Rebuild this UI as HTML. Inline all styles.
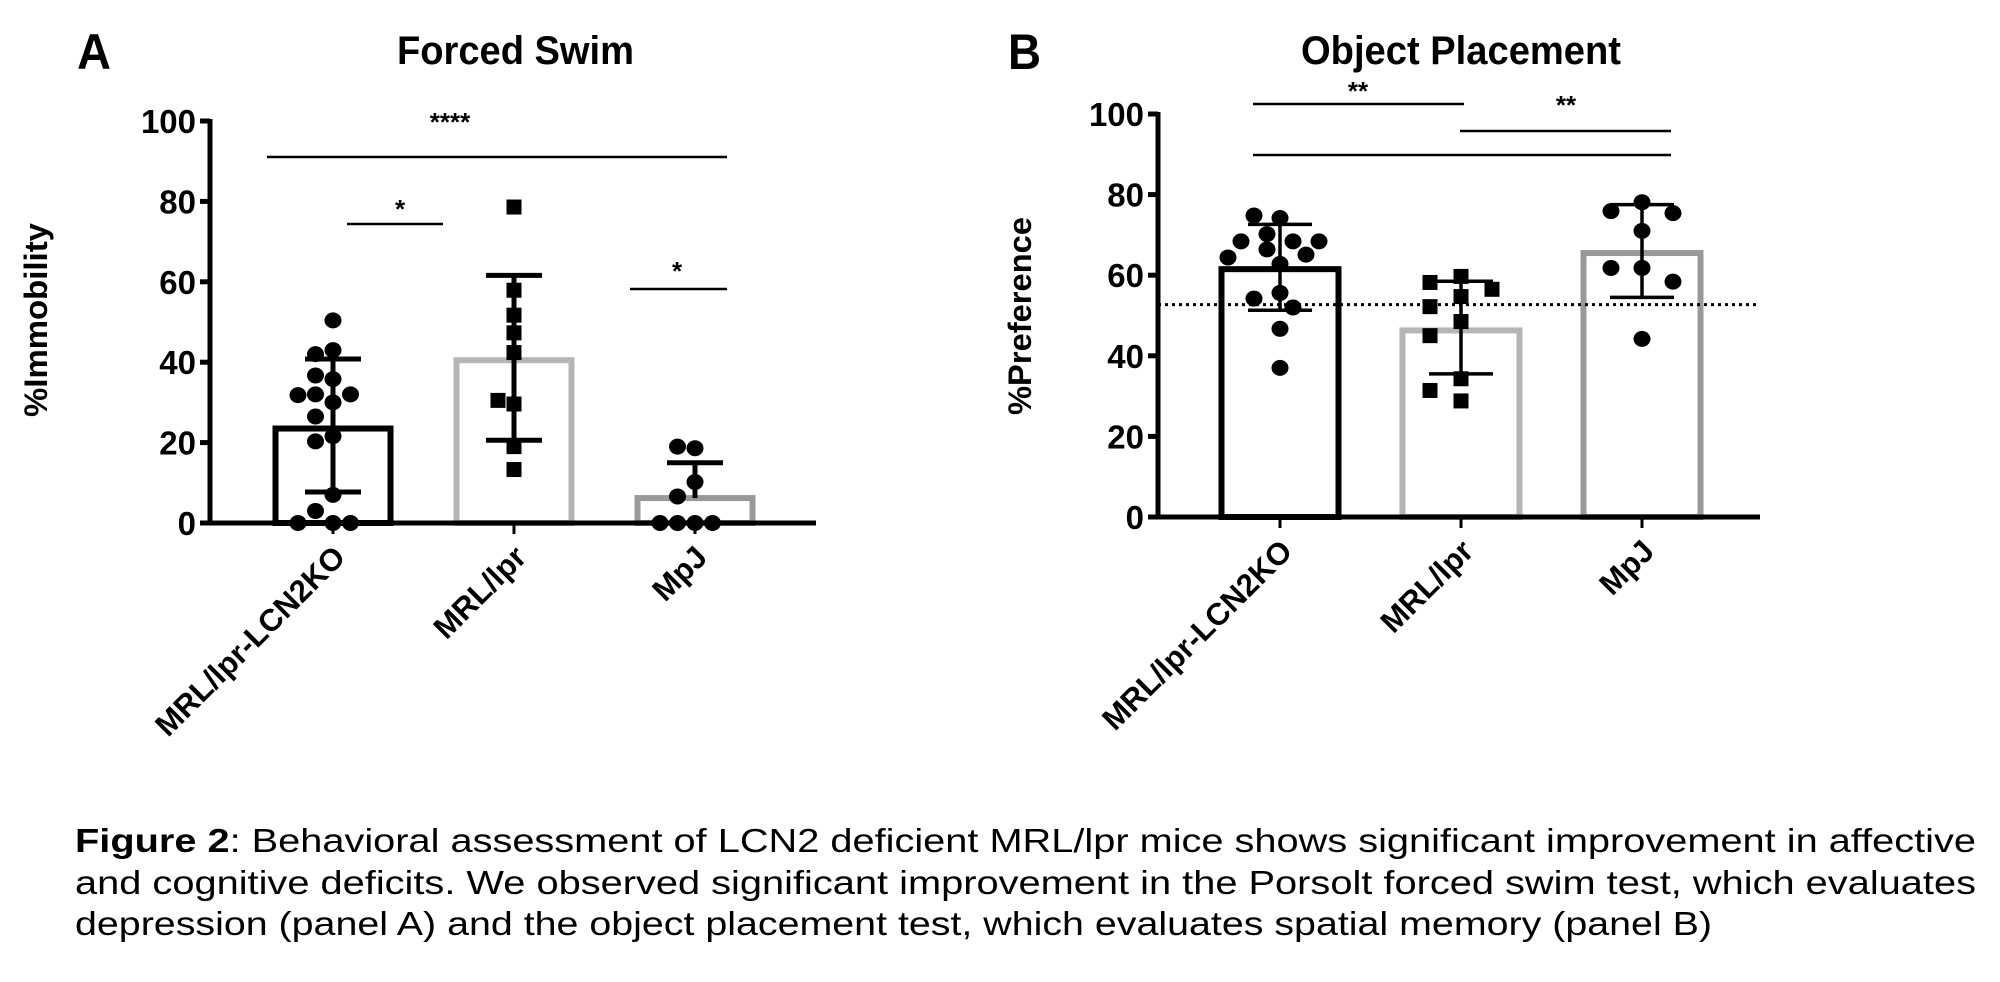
<!DOCTYPE html>
<html><head><meta charset="utf-8"><style>
html,body{margin:0;padding:0;background:#fff;}
svg{display:block;font-family:"Liberation Sans",Arial,sans-serif;}
</style></head><body>
<svg id="fig" width="2000" height="982" viewBox="0 0 2000 982">
<text x="77" y="69" font-size="50" font-weight="bold" textLength="34" lengthAdjust="spacingAndGlyphs">A</text>
<text x="1008" y="69" font-size="50" font-weight="bold" textLength="33" lengthAdjust="spacingAndGlyphs">B</text>
<text x="397" y="64" font-size="40" font-weight="bold" textLength="237" lengthAdjust="spacingAndGlyphs">Forced Swim</text>
<text x="1301" y="64" font-size="40" font-weight="bold" textLength="320" lengthAdjust="spacingAndGlyphs">Object Placement</text>
<text transform="translate(47,320) rotate(-90)" text-anchor="middle" font-size="32" font-weight="bold" textLength="194" lengthAdjust="spacingAndGlyphs">%Immobility</text>
<text transform="translate(1031,316) rotate(-90)" text-anchor="middle" font-size="32" font-weight="bold" textLength="198" lengthAdjust="spacingAndGlyphs">%Preference</text>
<g id="pa"></g>
<g id="pb"></g>
<g>
<text x="75" y="852" font-size="33" textLength="1901" lengthAdjust="spacingAndGlyphs"><tspan font-weight="bold">Figure 2</tspan>: Behavioral assessment of LCN2 deficient MRL/lpr mice shows significant improvement in affective</text>
<text x="75" y="894" font-size="33" textLength="1901" lengthAdjust="spacingAndGlyphs">and cognitive deficits. We observed significant improvement in the Porsolt forced swim test, which evaluates</text>
<text x="75" y="935" font-size="33" textLength="1637" lengthAdjust="spacingAndGlyphs">depression (panel A) and the object placement test, which evaluates spatial memory (panel B)</text>
</g>
</svg>
<script>
const categories = ["MRL/lpr-LCN2KO", "MRL/lpr", "MpJ"];
const yTicks = [0, 20, 40, 60, 80, 100];
const aMeans = [23.5, 40.5, 6.2];
const aUpper = [40.8, 61.6, 15];
const aLower = [7.7, 20.6, null];
const aPts1 = [50.4, 43, 42, 35.8, 36.7, 32, 32, 31.8, 30, 26.5, 21.6, 20.3, 7, 3, 0, 0, 0];
const aPts2 = [78.6, 57.9, 51.7, 47.3, 42.4, 29.6, 30.5, 19, 13.3];
const aPts3 = [18.6, 19, 10.2, 6.6, 0, 0, 0, 0];
const bMeans = [61.5, 46.3, 65.5];
const bUpper = [72.6, 58.5, 77.5];
const bLower = [51.3, 35.5, 54.5];
const bPts1 = [74.2, 74.8, 70.2, 68.4, 68.4, 68.4, 66.4, 65.1, 64.4, 62.8, 55.6, 54.2, 52, 46.7, 37];
const bPts2 = [59.7, 58.2, 56.5, 54.7, 52.2, 48.5, 45, 34.3, 31.4, 28.8];
const bPts3 = [78.1, 75.9, 75.4, 71, 61.8, 61.8, 58.4, 44.2];
const bChance = 52.7;

const NS = "http://www.w3.org/2000/svg";
function mk(parent, tag, attrs){const e=document.createElementNS(NS,tag);for(const k in attrs)e.setAttribute(k,attrs[k]);parent.appendChild(e);return e;}

function swarm(vals, step, d, yScale, cap){
  const placed=[];const out=[];
  const cands=[0];
  for(let k=1;k<=cap;k++){cands.push(-k,k);}
  vals.forEach(v=>{
    let best=0,bestD=-1;
    for(const c of cands){
      const o=c*step;
      let md=Infinity;
      placed.forEach(p=>{md=Math.min(md,Math.hypot(p.o-o,(p.v-v)*yScale));});
      if(md>=d){best=o;bestD=Infinity;break;}
      if(md>bestD){bestD=md;best=o;}
    }
    placed.push({o:best,v:v});out.push(best);
  });
  return out;
}

function drawPanel(g, cfg){
  const y = v => cfg.y0 - (v/100)*(cfg.y0-cfg.y100);
  const cx = i => cfg.centers[i];
  const cols = ["#000","#b5b5b5","#999"];
  cfg.means.forEach((m,i)=>{
    const r = mk(g,"rect",{x:cx(i)-cfg.bw/2,y:y(m),width:cfg.bw,height:cfg.y0-y(m),fill:"#fff",stroke:cols[i],"stroke-width":cfg.bs});
    
    
  });
  if(cfg.chance!=null){
    const l=mk(g,"line",{x1:cfg.x0,x2:cfg.xEnd,y1:y(cfg.chance),y2:y(cfg.chance),stroke:"#000","stroke-width":3,"stroke-dasharray":"3,4"});
    
    
  }
  cfg.pts.forEach((arr,i)=>{
    const offs = swarm(arr, cfg.steps[i], 17, (cfg.y0-cfg.y100)/100, cfg.caps[i]);
    arr.forEach((v,j)=>{
      let e;
      if(cfg.shapes[i]==="sq") e=mk(g,"rect",{x:cx(i)+offs[j]-7.5,y:y(v)-7.5,width:15,height:15,fill:"#000"});
      else e=mk(g,"ellipse",{cx:cx(i)+offs[j],cy:y(v),rx:8.5,ry:8,fill:"#000"});
      
      
    });
  });
  cfg.means.forEach((m,i)=>{
    const lo = cfg.lower[i]==null ? m : cfg.lower[i];
    const eg = mk(g,"g",{stroke:"#000","stroke-width":cfg.es});
    
    
    mk(eg,"line",{x1:cx(i),x2:cx(i),y1:y(cfg.upper[i]),y2:y(lo)});
    mk(eg,"line",{x1:cx(i)-cfg.cap,x2:cx(i)+cfg.cap,y1:y(cfg.upper[i]),y2:y(cfg.upper[i])});
    if(cfg.lower[i]!=null) mk(eg,"line",{x1:cx(i)-cfg.cap,x2:cx(i)+cfg.cap,y1:y(lo),y2:y(lo)});
  });
  const ax=mk(g,"line",{x1:cfg.x0,x2:cfg.x0,y1:cfg.y100-2,y2:cfg.y0+2,stroke:"#000","stroke-width":cfg.as});
  
  
  const bx=mk(g,"line",{x1:cfg.x0-2,x2:cfg.xEnd,y1:cfg.y0,y2:cfg.y0,stroke:"#000","stroke-width":cfg.as});
  
  
  yTicks.forEach(t=>{
    const tk=mk(g,"line",{x1:cfg.x0-10,x2:cfg.x0,y1:y(t),y2:y(t),stroke:"#000","stroke-width":cfg.as});
    
    
    const tl=mk(g,"text",{x:cfg.x0-14,y:y(t)+12,"text-anchor":"end","font-size":33,"font-weight":"bold"});
    tl.textContent=t;
    
    
  });
  categories.forEach((c,i)=>{
    const tk=mk(g,"line",{x1:cx(i),x2:cx(i),y1:cfg.y0,y2:cfg.y0+11,stroke:"#000","stroke-width":3});
    
    
    const tl=mk(g,"text",{transform:`translate(${cx(i)+14},${cfg.y0+36}) rotate(-45)`,"text-anchor":"end","font-size":31,"font-weight":"bold"});
    tl.textContent=c;
    
    
  });
  cfg.sig.forEach(s=>{
    const l=mk(g,"line",{x1:s[0],x2:s[1],y1:s[2],y2:s[2],stroke:"#000","stroke-width":2.5});
    
    
    if(s[3]){
      const t=mk(g,"text",{x:s[4],y:s[5],"text-anchor":"middle","font-size":26,"font-weight":"bold"});
      t.textContent=s[3];
      
      
    }
  });
}

drawPanel(document.getElementById("pa"),{
  x0:210,xEnd:816,y0:523,y100:121,centers:[333,514,695],bw:115,bs:6,es:5,as:5,cap:28,
  steps:[17.5,16,17.5],caps:[3,1,3],
  means:aMeans,upper:aUpper,lower:aLower,pts:[aPts1,aPts2,aPts3],shapes:["c","sq","c"],chance:null,
  sig:[[267,727,157,"****",450,131],[347,443,224,"*",400,218],[630,727,289,"*",677,280]]
});
drawPanel(document.getElementById("pb"),{
  x0:1158,xEnd:1760,y0:517,y100:114,centers:[1280,1461,1642],bw:117,bs:6,es:3.5,as:5,cap:32,
  steps:[13,31,31],caps:[4,1,1],
  means:bMeans,upper:bUpper,lower:bLower,pts:[bPts1,bPts2,bPts3],shapes:["c","sq","c"],chance:bChance,
  sig:[[1253,1464,104,"**",1358,100],[1460,1671,131,"**",1566,114],[1253,1671,155,null]]
});
</script>
</body></html>
